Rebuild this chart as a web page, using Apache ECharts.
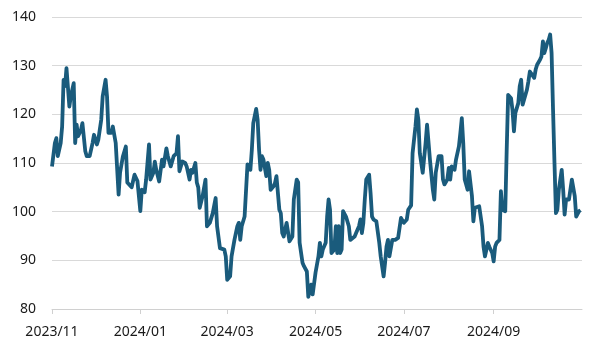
<!DOCTYPE html>
<html>
<head>
<meta charset="utf-8">
<script src="https://cdn.jsdelivr.net/npm/echarts@6/dist/echarts.min.js"></script>
<style>
  html, body { margin: 0; padding: 0; background: #fff; }
  #chart { width: 600px; height: 351px; }
</style>
</head>
<body>
<div id="chart"></div>
<script>
  var dates = [
    '2023-11-01','2023-11-03','2023-11-04','2023-11-05','2023-11-07','2023-11-08','2023-11-09','2023-11-10','2023-11-11','2023-11-13',
    '2023-11-14','2023-11-16','2023-11-17','2023-11-18','2023-11-19','2023-11-21','2023-11-22','2023-11-24','2023-11-25','2023-11-27',
    '2023-11-29','2023-11-30','2023-12-02','2023-12-03','2023-12-05','2023-12-06','2023-12-08','2023-12-09','2023-12-10','2023-12-12',
    '2023-12-13','2023-12-15','2023-12-17','2023-12-18','2023-12-20','2023-12-22','2023-12-23','2023-12-24','2023-12-26','2023-12-27',
    '2023-12-28','2023-12-30','2024-01-01','2024-01-02','2024-01-04','2024-01-05','2024-01-07','2024-01-08','2024-01-10','2024-01-11',
    '2024-01-12','2024-01-14','2024-01-16','2024-01-17','2024-01-19','2024-01-20','2024-01-22','2024-01-24','2024-01-26','2024-01-27',
    '2024-01-28','2024-01-30','2024-02-01','2024-02-02','2024-02-04','2024-02-05','2024-02-06','2024-02-08','2024-02-09','2024-02-10',
    '2024-02-11','2024-02-13','2024-02-15','2024-02-16','2024-02-18','2024-02-20','2024-02-22','2024-02-23','2024-02-25','2024-02-26',
    '2024-02-28','2024-02-29','2024-03-01','2024-03-02','2024-03-03','2024-03-04','2024-03-06','2024-03-08','2024-03-09','2024-03-10',
    '2024-03-11','2024-03-13','2024-03-14','2024-03-15','2024-03-17','2024-03-18','2024-03-19','2024-03-21','2024-03-22','2024-03-23',
    '2024-03-24','2024-03-25','2024-03-26','2024-03-27','2024-03-28','2024-03-29','2024-03-30','2024-03-31','2024-04-02','2024-04-03',
    '2024-04-04','2024-04-06','2024-04-07','2024-04-08','2024-04-09','2024-04-10','2024-04-11','2024-04-13','2024-04-14','2024-04-15',
    '2024-04-16','2024-04-18','2024-04-19','2024-04-20','2024-04-22','2024-04-23','2024-04-25','2024-04-26','2024-04-28','2024-04-29',
    '2024-05-01','2024-05-03','2024-05-04','2024-05-05','2024-05-06','2024-05-08','2024-05-09','2024-05-10','2024-05-11','2024-05-12',
    '2024-05-14','2024-05-15','2024-05-16','2024-05-17','2024-05-18','2024-05-19','2024-05-20','2024-05-21','2024-05-22','2024-05-24',
    '2024-05-25','2024-05-26','2024-05-28','2024-05-29','2024-05-31','2024-06-01','2024-06-02','2024-06-03','2024-06-04','2024-06-05',
    '2024-06-07','2024-06-08','2024-06-09','2024-06-10','2024-06-12','2024-06-13','2024-06-14','2024-06-15','2024-06-17','2024-06-18',
    '2024-06-19','2024-06-20','2024-06-21','2024-06-23','2024-06-24','2024-06-25','2024-06-27','2024-06-28','2024-06-29','2024-07-01',
    '2024-07-03','2024-07-04','2024-07-05','2024-07-06','2024-07-07','2024-07-09','2024-07-10','2024-07-11','2024-07-12','2024-07-14',
    '2024-07-16','2024-07-17','2024-07-18','2024-07-19','2024-07-21','2024-07-22','2024-07-23','2024-07-25','2024-07-27','2024-07-28',
    '2024-07-29','2024-07-31','2024-08-01','2024-08-02','2024-08-03','2024-08-05','2024-08-06','2024-08-08','2024-08-09','2024-08-10',
    '2024-08-11','2024-08-12','2024-08-13','2024-08-14','2024-08-15','2024-08-17','2024-08-18','2024-08-19','2024-08-20','2024-08-22',
    '2024-08-23','2024-08-24','2024-08-25','2024-08-26','2024-08-27','2024-08-28','2024-08-29','2024-08-31','2024-09-01','2024-09-02',
    '2024-09-03','2024-09-05','2024-09-06','2024-09-07','2024-09-09','2024-09-10','2024-09-11','2024-09-13','2024-09-14','2024-09-15',
    '2024-09-16','2024-09-18','2024-09-19','2024-09-20','2024-09-21','2024-09-22','2024-09-24','2024-09-25','2024-09-26','2024-09-27',
    '2024-09-29','2024-09-30','2024-10-01','2024-10-03','2024-10-04','2024-10-05','2024-10-06','2024-10-07','2024-10-08','2024-10-09',
    '2024-10-10','2024-10-11','2024-10-12','2024-10-13','2024-10-14','2024-10-15','2024-10-16','2024-10-18','2024-10-19','2024-10-20',
    '2024-10-21','2024-10-23','2024-10-24','2024-10-25','2024-10-27','2024-10-28','2024-10-29','2024-10-30','2024-10-31'
  ];
  var values = [
    109.3,114.1,115.1,111.4,114.1,117.5,127.1,125.8,129.5,121.6,
    123.7,126.4,114.1,117.9,115.5,116.8,118.2,112.4,111.4,111.4,
    114.1,115.8,113.8,114.8,118.9,123.7,127.1,123.7,116.2,116.2,
    117.5,114.1,103.5,108,111.4,113.4,106,106,105,106.3,
    107.6,106.3,100.1,104.5,104,106.6,113.8,106.6,108,110.3,
    108.6,106.2,110.7,109.3,113,111.4,109.3,111.4,112,115.5,
    108.3,110.3,110,109.3,106.6,108.6,108,110,106,105,
    100.8,103.2,106.6,97,97.7,99.7,102.8,97,92.5,92.8,
    92.2,90.8,86,86.4,86.7,90.8,94.2,97,97.7,94.2,
    97,99,99.4,109.7,108.6,112.7,118.2,121.1,118.9,112.7,
    108.6,111.4,110.7,109,107.3,110,108.6,104.5,105.2,105.9,
    107.3,100.4,99.7,95.6,94.9,94.6,97.7,93.9,94.2,94.9,
    102.5,106.6,106,93.6,89.5,88.8,87.7,82.5,85,83,
    87.5,90.8,93.6,90.8,92.2,93.6,99,102.5,100.4,91.5,
    92.2,97,91.5,97,91.5,92.2,100.1,99.7,99,97,
    94.2,94.2,94.9,95.6,97,98.4,95.6,97.7,102.5,106.6,
    107.6,103.8,99,98.4,98,97.7,93.6,90.8,86.7,89.5,
    92.8,94.2,90.8,94.2,94.2,94.2,94.6,94.9,98.7,97.7,
    98.4,100.4,100.4,101.3,112,117.5,121,118.9,112,108,
    114.1,117.9,118.2,110.7,104.5,102.5,108,111.4,111.4,106.6,
    105.6,106.6,109,106.6,109.3,108.6,110.7,113.4,116.2,119.2,
    114.1,106.6,105.6,104.5,108.3,103.2,98,100.8,100.8,101.1,
    101.5,97,92.8,90.8,92.2,93.6,92.8,91.5,89.8,92.8,
    93.6,94.2,104.2,100.4,100.1,112.7,124,123.3,120.9,116.5,
    120.3,122.3,125.8,127.1,122,122.3,125.1,126.8,128.8,129.2,
    127.5,129.2,130.2,131.2,131.9,135,132.6,133.6,134.7,135.3,
    136.4,132.6,121,110,99.7,100.4,104.5,108.6,104.5,99.4,
    102.5,102.5,102.2,106.6,103.2,99,99.4,100.1,100.3
  ];
  var yTicks = [80, 90, 100, 110, 120, 130, 140];
  var labelMonths = ['2023-11', '2024-01', '2024-03', '2024-05', '2024-07', '2024-09'];

  // one category per calendar day so the axis keeps real spacing
  var days = [];
  for (var t = Date.UTC(2023, 10, 1); t <= Date.UTC(2024, 10, 1); t += 86400000) {
    days.push(new Date(t).toISOString().slice(0, 10));
  }
  var showMonth = function (index, value) {
    return value.slice(8) === '01' && labelMonths.indexOf(value.slice(0, 7)) > -1;
  };

  var myChart = echarts.init(document.getElementById('chart'));
  var option = {
    animation: false,
    grid: {
      left: 52,
      right: 18,
      top: 17,
      bottom: 42
    },
    xAxis: {
      type: 'category',
      data: days,
      boundaryGap: false,
      axisLine: {
        lineStyle: { color: '#d0d0d0', width: 1 }
      },
      axisTick: {
        interval: showMonth,
        length: 5,
        lineStyle: { color: '#d0d0d0' }
      },
      axisLabel: {
        interval: showMonth,
        margin: 16,
        color: '#1a1a1a',
        fontSize: 14,
        fontFamily: 'Noto Sans',
        formatter: function (v) {
          return v.slice(0, 4) + '/' + v.slice(5, 7);
        }
      },
      splitLine: { show: false }
    },
    yAxis: {
      type: 'value',
      min: yTicks[0],
      max: yTicks[yTicks.length - 1],
      interval: 10,
      axisLine: { show: false },
      axisTick: { show: false },
      axisLabel: {
        margin: 16,
        color: '#1a1a1a',
        fontSize: 14,
        fontFamily: 'Noto Sans'
      },
      splitLine: {
        lineStyle: { color: '#d9d9d9', width: 1 }
      }
    },
    series: [{
      type: 'line',
      data: dates.map(function (d, i) { return [d, values[i]]; }),
      showSymbol: false,
      lineStyle: { color: '#1a5b7c', width: 3.8, join: 'round' },
      itemStyle: { color: '#1a5b7c' }
    }]
  };
  myChart.setOption(option);
</script>
</body>
</html>
